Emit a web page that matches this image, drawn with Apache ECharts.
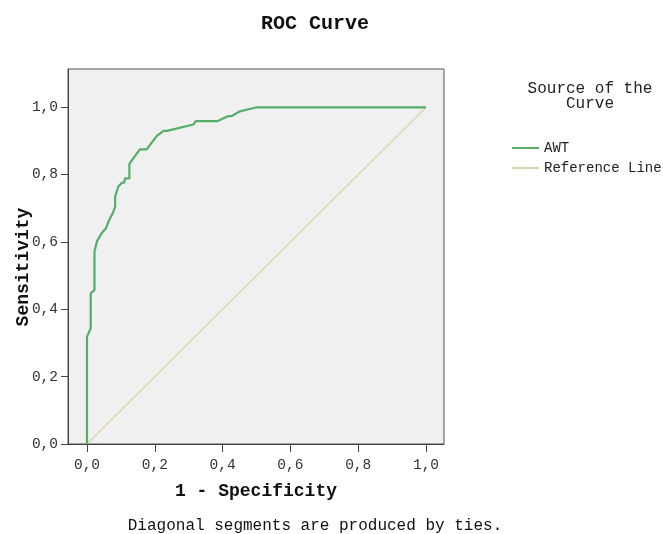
<!DOCTYPE html>
<html>
<head>
<meta charset="utf-8">
<script src="https://cdn.jsdelivr.net/npm/echarts@6/dist/echarts.min.js"></script>
<style>html,body{margin:0;padding:0;background:#fff;}#c{width:663px;height:534px;}</style>
</head>
<body>
<div id="c"></div>
<script>
// 1 - Specificity values of the AWT curve
const awtX = [0, 0, 0.011, 0.011, 0.022, 0.022, 0.024, 0.029, 0.043, 0.056, 0.063, 0.068, 0.078, 0.083, 0.083, 0.092, 0.103, 0.110, 0.112, 0.125, 0.125, 0.137, 0.156, 0.176, 0.206, 0.226, 0.236, 0.314, 0.321, 0.386, 0.417, 0.427, 0.451, 0.501, 1.0];
// Sensitivity values of the AWT curve
const awtY = [0, 0.319, 0.344, 0.448, 0.457, 0.571, 0.576, 0.601, 0.626, 0.641, 0.660, 0.665, 0.690, 0.705, 0.734, 0.764, 0.776, 0.776, 0.789, 0.789, 0.832, 0.849, 0.875, 0.875, 0.915, 0.930, 0.930, 0.949, 0.959, 0.959, 0.974, 0.974, 0.988, 1.0, 1.0];
const refX = [0, 1];
const refY = [0, 1];
const tickValues = [0, 0.2, 0.4, 0.6, 0.8, 1.0];

const FONT = '"Liberation Mono", "DejaVu Sans Mono", monospace';
const fmt = v => v.toFixed(1).replace('.', ',');

const chart = echarts.init(document.getElementById('c'), null, {renderer: 'canvas'});
chart.setOption({
  animation: false,
  backgroundColor: '#ffffff',
  title: [
    {text: 'ROC Curve', left: 310, top: 9, textAlign: 'center',
     textStyle: {fontFamily: FONT, fontSize: 20, fontWeight: 'bold', color: '#111'}},
    {text: 'Source of the\nCurve', left: 585, top: 76, textAlign: 'center',
     textStyle: {fontFamily: FONT, fontSize: 16, fontWeight: 'normal', color: '#222', lineHeight: 15}},
    {text: 'Diagonal segments are produced by ties.', left: 310, top: 513, textAlign: 'center',
     textStyle: {fontFamily: FONT, fontSize: 16, fontWeight: 'normal', color: '#111'}}
  ],
  graphic: [
    {type: 'text', x: 23, y: 267, rotation: Math.PI / 2,
     style: {text: 'Sensitivity', font: 'bold 18px ' + FONT, fill: '#111',
             align: 'center', verticalAlign: 'middle'}}
  ],
  legend: {
    orient: 'vertical', left: 507, top: 136, itemWidth: 27, itemHeight: 2, itemGap: 6,
    icon: 'rect',
    textStyle: {fontFamily: FONT, fontSize: 14, color: '#222'},
    data: ['AWT', 'Reference Line']
  },
  grid: {
    left: 68, top: 69, width: 376, height: 375, show: true, containLabel: false,
    outerBoundsMode: 'none',
    backgroundColor: '#f0f0f0', borderColor: '#555', borderWidth: 1
  },
  xAxis: {
    type: 'value', min: -0.05605, max: 1.0531,
    name: '1 - Specificity', nameLocation: 'middle', nameGap: 38,
    nameTextStyle: {fontFamily: FONT, fontSize: 18, fontWeight: 'bold', color: '#111'},
    axisLine: {show: true, onZero: false, lineStyle: {color: '#444', width: 1}},
    axisTick: {show: true, length: 8, customValues: tickValues, lineStyle: {color: '#444'}},
    axisLabel: {customValues: tickValues, formatter: fmt, margin: 14,
      fontFamily: FONT, fontSize: 14.5, color: '#333'},
    splitLine: {show: false}
  },
  yAxis: {
    type: 'value', min: 0, max: 1.1137,
    axisLine: {show: true, onZero: false, lineStyle: {color: '#444', width: 1}},
    axisTick: {show: true, length: 7, customValues: tickValues, lineStyle: {color: '#444'}},
    axisLabel: {customValues: tickValues, formatter: fmt, margin: 10,
      fontFamily: FONT, fontSize: 14.5, color: '#333'},
    splitLine: {show: false}
  },
  series: [
    {
      name: 'Reference Line', type: 'line', symbol: 'none', z: 2,
      itemStyle: {color: '#d8d5a6'},
      lineStyle: {color: '#d8d5a6', width: 1.2},
      data: refX.map((x, i) => [x, refY[i]])
    },
    {
      name: 'AWT', type: 'line', symbol: 'none', z: 3,
      itemStyle: {color: '#55ae69'},
      lineStyle: {color: '#55ae69', width: 2.2},
      data: awtX.map((x, i) => [x, awtY[i]])
    }
  ]
});
</script>
</body>
</html>
